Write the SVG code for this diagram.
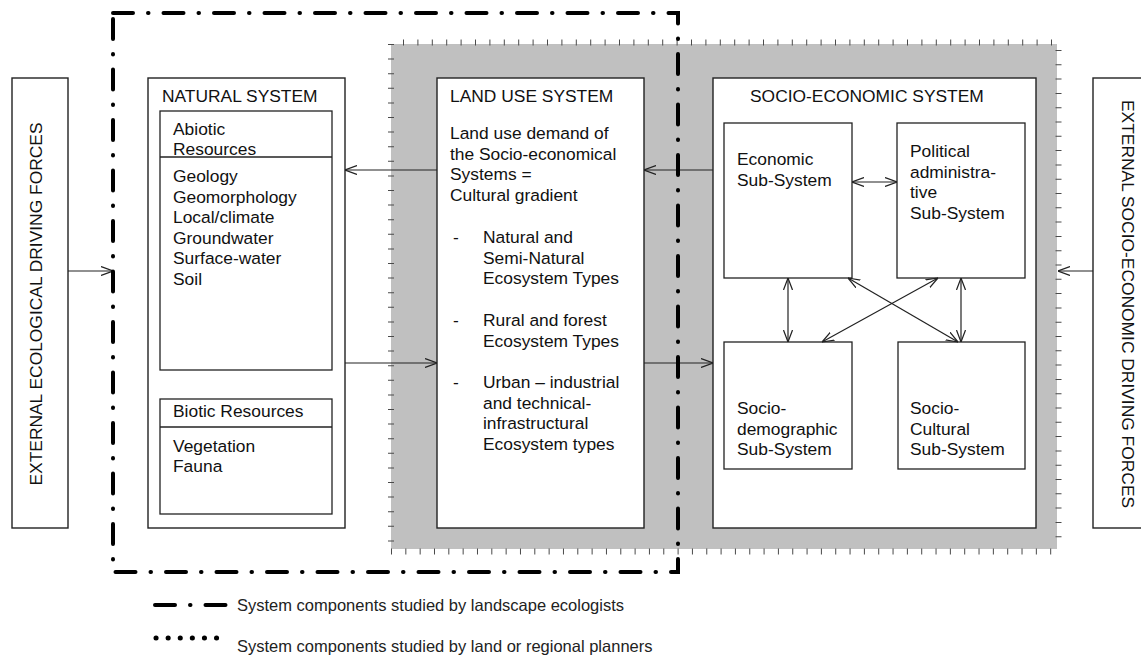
<svg xmlns="http://www.w3.org/2000/svg" width="1141" height="656" viewBox="0 0 1141 656">
<defs>
<style>
text{font-family:"Liberation Sans",Arial,sans-serif;font-size:17.4px;fill:#111}
.box{fill:#fff;stroke:#222;stroke-width:1.4}
.ibox{fill:none;stroke:#222;stroke-width:1.3}
.con{stroke:#222;stroke-width:1.2;fill:none}
.arr{marker-end:url(#ah)}
.dbl{marker-start:url(#ah);marker-end:url(#ah)}
.tick{stroke:#4a4a4a;stroke-width:6;fill:none}
.dashdot{fill:none;stroke:#000;stroke-width:4;stroke-linecap:round;stroke-dasharray:20 15 0.5 15}
.leg{font-size:16.5px;fill:#222}
</style>
<marker id="ah" viewBox="0 0 12 10" refX="12" refY="5" markerWidth="12" markerHeight="10" markerUnits="userSpaceOnUse" orient="auto-start-reverse">
<path d="M0,0.5 L12,5 L0,9.5" fill="none" stroke="#222" stroke-width="1.2"/>
</marker>
</defs>
<rect width="1141" height="656" fill="#fff"/>

<g id="planners-area">
<rect x="391" y="44" width="666" height="505" fill="#c0c0c0"/>
<line class="tick" x1="403" y1="42.5" x2="1053" y2="42.5" stroke-dasharray="1 13.4"/>
<line class="tick" x1="391" y1="551.5" x2="1056" y2="551.5" stroke-dasharray="1 13.33"/>
<line class="tick" x1="391" y1="44" x2="391" y2="545" stroke-dasharray="1 13.6"/>
<line class="tick" x1="1058.5" y1="50" x2="1058.5" y2="545" stroke-dasharray="1 13.3"/>
</g>

<g id="ext-ecological">
<rect class="box" x="12" y="78" width="56" height="450"/>
<text transform="translate(42,304) rotate(-90)" text-anchor="middle">EXTERNAL ECOLOGICAL DRIVING FORCES</text>
</g>

<g id="ext-socioeconomic">
<rect class="box" x="1093" y="78" width="60" height="450"/>
<text transform="translate(1122,100) rotate(90)">EXTERNAL SOCIO-ECONOMIC DRIVING FORCES</text>
</g>

<g id="natural-system">
<rect class="box" x="148" y="78" width="197" height="450"/>
<text x="162" y="102">NATURAL SYSTEM</text>
<rect class="ibox" x="160" y="111" width="172" height="259"/>
<line class="ibox" x1="160" y1="157" x2="332" y2="157"/>
<text x="173" y="135">Abiotic</text>
<text x="173" y="155">Resources</text>
<text x="173" y="182">Geology</text>
<text x="173" y="202.5">Geomorphology</text>
<text x="173" y="223">Local/climate</text>
<text x="173" y="243.5">Groundwater</text>
<text x="173" y="264">Surface-water</text>
<text x="173" y="284.5">Soil</text>
<rect class="ibox" x="160" y="399" width="172" height="115"/>
<line class="ibox" x1="160" y1="427" x2="332" y2="427"/>
<text x="173" y="417">Biotic Resources</text>
<text x="173" y="452">Vegetation</text>
<text x="173" y="472">Fauna</text>
</g>

<g id="land-use-system">
<rect class="box" x="437" y="78" width="207" height="450"/>
<text x="450" y="102">LAND USE SYSTEM</text>
<text x="450" y="139">Land use demand of</text>
<text x="450" y="159.5">the Socio-economical</text>
<text x="450" y="180">Systems =</text>
<text x="450" y="200.5">Cultural gradient</text>
<text x="453" y="243">-</text>
<text x="483" y="243">Natural and</text>
<text x="483" y="263.5">Semi-Natural</text>
<text x="483" y="284">Ecosystem Types</text>
<text x="453" y="326">-</text>
<text x="483" y="326">Rural and forest</text>
<text x="483" y="346.5">Ecosystem Types</text>
<text x="453" y="388">-</text>
<text x="483" y="388">Urban – industrial</text>
<text x="483" y="408.5">and technical-</text>
<text x="483" y="429">infrastructural</text>
<text x="483" y="449.5">Ecosystem types</text>
</g>

<g id="socio-economic-system">
<rect class="box" x="713" y="78" width="323" height="450"/>
<text x="750" y="102">SOCIO-ECONOMIC SYSTEM</text>
</g>

<g id="economic">
<rect class="ibox" x="724" y="123" width="128" height="155"/>
<text x="737" y="165">Economic</text>
<text x="737" y="186">Sub-System</text>
</g>
<g id="political">
<rect class="ibox" x="897" y="123" width="128" height="155"/>
<text x="910" y="157">Political</text>
<text x="910" y="178">administra-</text>
<text x="910" y="198">tive</text>
<text x="910" y="219">Sub-System</text>
</g>
<g id="socio-demographic">
<rect class="ibox" x="724" y="342" width="128" height="127"/>
<text x="737" y="414">Socio-</text>
<text x="737" y="435">demographic</text>
<text x="737" y="455">Sub-System</text>
</g>
<g id="socio-cultural">
<rect class="ibox" x="898" y="342" width="127" height="127"/>
<text x="910" y="414">Socio-</text>
<text x="910" y="435">Cultural</text>
<text x="910" y="455">Sub-System</text>
</g>

<g id="connectors">
<line class="con arr" x1="68" y1="271" x2="113" y2="271"/>
<line class="con arr" x1="1093" y1="271" x2="1058" y2="271"/>
<line class="con arr" x1="437" y1="170" x2="345" y2="170"/>
<line class="con arr" x1="345" y1="363" x2="437" y2="363"/>
<line class="con arr" x1="713" y1="170" x2="644" y2="170"/>
<line class="con arr" x1="644" y1="363" x2="713" y2="363"/>
<line class="con dbl" x1="852" y1="182" x2="897" y2="182"/>
<line class="con dbl" x1="788" y1="278" x2="788" y2="342"/>
<line class="con dbl" x1="961" y1="278" x2="961" y2="342"/>
<line class="con dbl" x1="848" y1="278" x2="958" y2="342"/>
<line class="con dbl" x1="938" y1="278" x2="822" y2="342"/>
</g>

<g id="landscape-ecologists-boundary">
<rect class="dashdot" x="113" y="13" width="565" height="559"/>
</g>

<g id="legend">
<line class="dashdot" x1="155" y1="605" x2="228" y2="605" stroke-dasharray="16 12 0.5 12"/>
<text class="leg" x="237" y="611">System components studied by landscape ecologists</text>
<line x1="156" y1="638" x2="228" y2="638" stroke="#000" stroke-width="5" stroke-linecap="round" stroke-dasharray="0.1 12"/>
<text class="leg" x="237" y="652">System components studied by land or regional planners</text>
</g>
</svg>
